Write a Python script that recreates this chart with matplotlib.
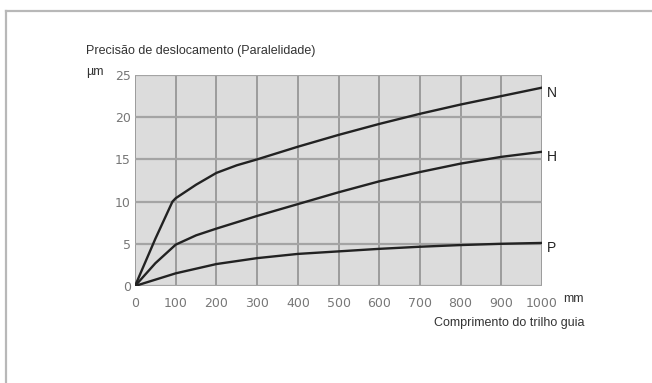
import matplotlib
matplotlib.use("Agg")
import matplotlib.pyplot as plt
from matplotlib.lines import Line2D

# data
x_ticks = [0, 100, 200, 300, 400, 500, 600, 700, 800, 900, 1000]
y_ticks = [0, 5, 10, 15, 20, 25]

n_x = [0, 50, 92, 100, 150, 200, 250, 300, 400, 500, 600, 700, 800, 900, 1000]
n_y = [0, 5.6, 10.0, 10.4, 12.0, 13.4, 14.3, 15.0, 16.5, 17.9, 19.2, 20.4, 21.5, 22.5, 23.5]

h_x = [0, 50, 100, 150, 200, 300, 400, 500, 600, 700, 800, 900, 1000]
h_y = [0, 2.7, 4.9, 6.0, 6.8, 8.3, 9.7, 11.1, 12.4, 13.5, 14.5, 15.3, 15.9]

p_x = [0, 100, 200, 300, 400, 500, 600, 700, 800, 900, 1000]
p_y = [0, 1.5, 2.6, 3.3, 3.8, 4.1, 4.4, 4.65, 4.85, 5.0, 5.1]

narrow = ['Liberation Sans Narrow', 'Liberation Sans', 'DejaVu Sans']

fig = plt.figure(figsize=(6.52, 3.83), dpi=100)
ax = fig.add_axes([0.2071, 0.2533, 0.6242, 0.5509])
ax.set_facecolor('#dcdcdc')

for xv in x_ticks:
    ax.axvline(xv, color='#8a8a8a', linewidth=1.1, zorder=1)
for yv in y_ticks:
    ax.axhline(yv, color='#a4a4a4', linewidth=1.6, zorder=1)

for xs, ys in [(n_x, n_y), (h_x, h_y), (p_x, p_y)]:
    ax.plot(xs, ys, color='#222222', linewidth=1.7, zorder=3,
            solid_capstyle='round', solid_joinstyle='round')

ax.set_xlim(0, 1000)
ax.set_ylim(0, 25)
ax.set_xticks(x_ticks)
ax.set_yticks(y_ticks)
ax.tick_params(axis='x', length=0, labelsize=9, labelcolor='#777777', pad=8)
ax.tick_params(axis='y', length=0, labelsize=9, labelcolor='#777777', pad=3)
for s in ax.spines.values():
    s.set_visible(False)

# curve names at the right end
for name, yv in [('N', n_y[-1]), ('H', h_y[-1]), ('P', p_y[-1])]:
    ax.text(1012, yv - 0.6, name, fontsize=10, color='#222222',
            va='center', ha='left', family=['Liberation Sans', 'DejaVu Sans'])

fig.text(86 / 652, 1 - 51 / 383, 'Precisão de deslocamento (Paralelidade)',
         fontsize=9, color='#333333', va='center', ha='left', family=narrow)
fig.text(86 / 652, 1 - 72 / 383, 'µm', fontsize=9, color='#333333',
         va='center', ha='left', family=narrow)
fig.text(563 / 652, 1 - 299 / 383, 'mm', fontsize=9, color='#333333',
         va='center', ha='left', family=narrow)
fig.text(584 / 652, 1 - 323 / 383, 'Comprimento do trilho guia', fontsize=9,
         color='#333333', va='center', ha='right', family=narrow)

# outer frame (left and top edges)
fig.add_artist(Line2D([6 / 652, 6 / 652], [0, 1 - 11 / 383],
                      transform=fig.transFigure, color='#b8b8b8', linewidth=1.6))
fig.add_artist(Line2D([6 / 652, 1], [1 - 11 / 383, 1 - 11 / 383],
                      transform=fig.transFigure, color='#b8b8b8', linewidth=1.6))

fig.savefig('out.png', dpi=100)
